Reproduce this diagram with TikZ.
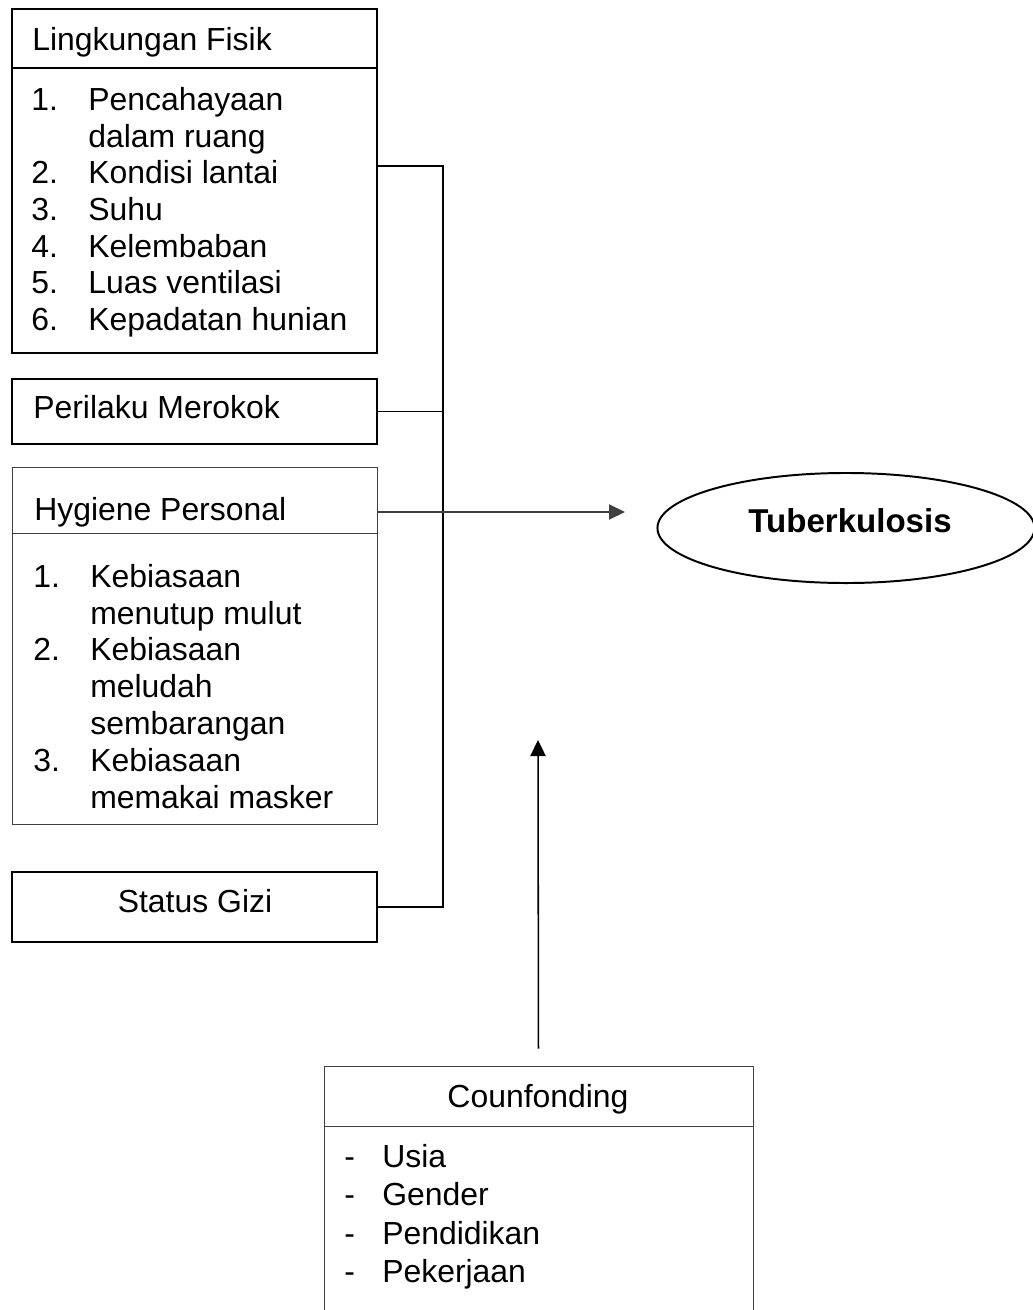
\documentclass[tikz,border=0pt]{standalone}
\usepackage{fontspec}
\setmainfont{Liberation Sans}
\usetikzlibrary{arrows.meta,calc,fit,positioning,shapes.geometric}
\newcommand{\diagfont}{\fontsize{22.7}{26}\selectfont}
\newcommand{\listnum}[2]{\makebox[1.425cm][l]{#1}#2}
\newcommand{\listdash}[1]{\makebox[0.95cm][l]{-}#1}
\tikzset{
boxthick/.style={
  rectangle,
  line width=1.4pt,
  inner sep=0pt,
  draw=black,
  }
}
\tikzset{
boxthin/.style={
  rectangle,
  line width=0.7pt,
  inner sep=0pt,
  draw=black!75,
  }
}
\tikzset{
boxtext/.style={
  inner sep=0pt,
  anchor=base west,
  font=\diagfont,
  }
}
\tikzset{
busline/.style={
  line width=1.4pt,
  }
}
\tikzset{
myarrow/.style={
  line width=0.9pt,
  -{Triangle[length=0.4cm,width=0.38cm]}
  }
}

\begin{document}
\begin{tikzpicture}[x=0.025cm,y=-0.025cm]
    \useasboundingbox (0,0) rectangle (1033,1310);

    % lingkungan fisik
    \node[boxthick, fit={(12,9) (377,353)}] (lf_box) {};
    \draw[line width=1.4pt] ($(lf_box.north west)+(0,60)$) -- ($(lf_box.north east)+(0,60)$);
    \node[boxtext] (lf_head) at (32,50) {Lingkungan Fisik};
    \node[boxtext] (lf_1) at (31,110) {\listnum{1.}{Pencahayaan}};
    \node[boxtext] (lf_1b) at (31,147) {\listnum{}{dalam ruang}};
    \node[boxtext] (lf_2) at (31,183) {\listnum{2.}{Kondisi lantai}};
    \node[boxtext] (lf_3) at (31,220) {\listnum{3.}{Suhu}};
    \node[boxtext] (lf_4) at (31,257) {\listnum{4.}{Kelembaban}};
    \node[boxtext] (lf_5) at (31,293) {\listnum{5.}{Luas ventilasi}};
    \node[boxtext] (lf_6) at (31,330) {\listnum{6.}{Kepadatan hunian}};

    % perilaku merokok
    \node[boxthick, fit={(12,379) (377,444)}] (pm_box) {};
    \node[boxtext] (pm_head) at (33,418) {Perilaku Merokok};

    % hygiene personal
    \node[boxthin, fit={(12,467) (377,824)}] (hp_box) {};
    \draw[line width=0.7pt, draw=black!75] ($(hp_box.north west)+(0,67)$) -- ($(hp_box.north east)+(0,67)$);
    \node[boxtext] (hp_head) at (34,520) {Hygiene Personal};
    \node[boxtext] (hp_1) at (33,587) {\listnum{1.}{Kebiasaan}};
    \node[boxtext] (hp_1b) at (33,624) {\listnum{}{menutup mulut}};
    \node[boxtext] (hp_2) at (33,660) {\listnum{2.}{Kebiasaan}};
    \node[boxtext] (hp_2b) at (33,697) {\listnum{}{meludah}};
    \node[boxtext] (hp_2c) at (33,734) {\listnum{}{sembarangan}};
    \node[boxtext] (hp_3) at (33,771) {\listnum{3.}{Kebiasaan}};
    \node[boxtext] (hp_3b) at (33,808) {\listnum{}{memakai masker}};

    % status gizi
    \node[boxthick, fit={(12,872) (377,942)}] (sg_box) {};
    \node[boxtext, anchor=base] (sg_head) at (195,912) {Status Gizi};

    % tuberkulosis
    \node[ellipse, draw=black, line width=1.4pt, inner sep=0pt,
          minimum width=9.425cm, minimum height=2.75cm] (tb) at (846,528) {};
    \node[boxtext, anchor=base, font=\fontsize{23.5}{26}\selectfont\bfseries] (tb_head) at (850,532) {Tuberkulosis};

    % counfonding
    \node[boxthin, fit={(324,1066) (753,1340)}] (cf_box) {};
    \draw[line width=0.7pt, draw=black!75] ($(cf_box.north west)+(0,61)$) -- ($(cf_box.north east)+(0,61)$);
    \node[boxtext, anchor=base] (cf_head) at (538,1107) {Counfonding};
    \node[boxtext] (cf_1) at (344,1167) {\listdash{Usia}};
    \node[boxtext] (cf_2) at (344,1205) {\listdash{Gender}};
    \node[boxtext] (cf_3) at (344,1244) {\listdash{Pendidikan}};
    \node[boxtext] (cf_4) at (344,1282) {\listdash{Pekerjaan}};

    % bus edges
    \coordinate (bus_top) at (443,166);
    \coordinate (tb_in) at (625,512);
    \coordinate (cf_tip) at (538,740);
    \draw[busline] (bus_top -| lf_box.east) -- (bus_top) -- (bus_top |- sg_box.east) -- (sg_box.east);
    \draw[busline] (pm_box.east) -- (pm_box.east -| bus_top);

    % influence edges
    \draw[myarrow, draw=black!75] (tb_in -| hp_box.east) -- (tb_in);
    \draw[myarrow, line width=1.1pt, shorten <=0.425cm] (cf_box.north) -- (cf_tip);
  \end{tikzpicture}
\end{document}
